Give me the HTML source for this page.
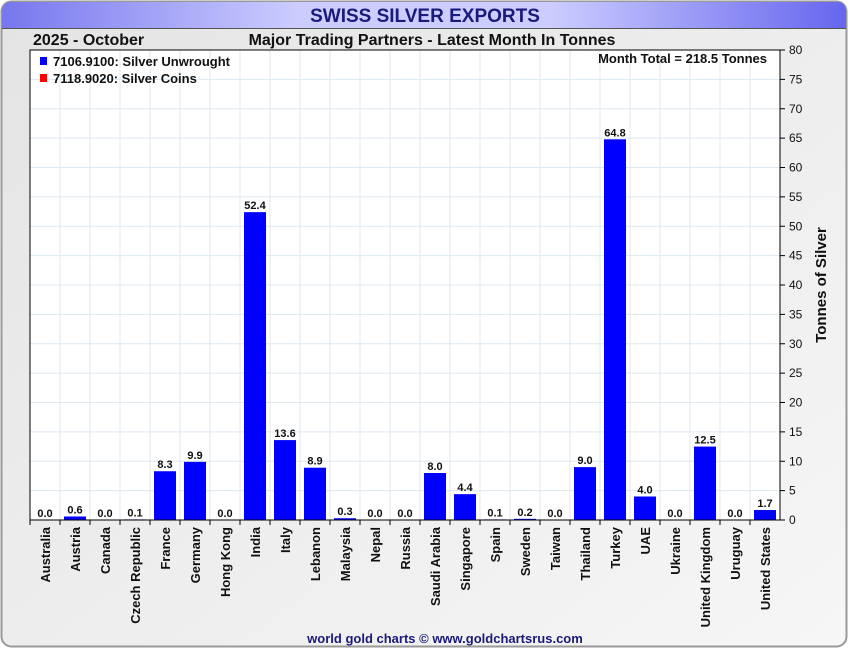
<!DOCTYPE html>
<html><head><meta charset="utf-8"><style>
body{margin:0;width:850px;height:650px;overflow:hidden;background:#fff;font-family:"Liberation Sans",sans-serif}
</style></head><body>
<svg id="c" width="850" height="650" xmlns="http://www.w3.org/2000/svg">
<defs>
<linearGradient id="hg" x1="0" x2="1" y1="0" y2="0">
<stop offset="0" stop-color="#7777ee"/><stop offset="0.35" stop-color="#ccccff"/><stop offset="0.65" stop-color="#ccccff"/><stop offset="1" stop-color="#6666ee"/></linearGradient>
<linearGradient id="bg" x1="0" x2="1" y1="0" y2="1">
<stop offset="0" stop-color="#e4e4e4"/><stop offset="1" stop-color="#f6f6f6"/></linearGradient>
</defs>
<rect x="1.5" y="1.5" width="845" height="645" rx="10" fill="url(#bg)" stroke="#999" stroke-width="2"/>
<path d="M2,28 L2,12 Q2,2 12,2 L836,2 Q846,2 846,12 L846,28 Z" fill="url(#hg)"/>
<line x1="2" y1="28.5" x2="846" y2="28.5" stroke="#555" stroke-width="1"/>
<text x="425" y="22" text-anchor="middle" font-size="19" font-weight="bold" fill="#1a1a7a">SWISS SILVER EXPORTS</text>
<text x="33" y="45" font-size="16" font-weight="bold" fill="#111">2025 - October</text>
<text x="432" y="45" text-anchor="middle" font-size="16" font-weight="bold" fill="#111">Major Trading Partners - Latest Month In Tonnes</text>
<rect x="30" y="50" width="750" height="470" fill="#fff"/>
<g id="grid"></g>
<g id="bars"></g>
<rect x="30" y="50" width="750" height="470" fill="none" stroke="#000" stroke-width="1"/>
<rect x="40" y="57" width="7" height="8" fill="#0000ff"/>
<text x="53" y="66" font-size="13" font-weight="bold" fill="#111">7106.9100: Silver Unwrought</text>
<rect x="40" y="74" width="7" height="8" fill="#ff0000"/>
<text x="53" y="83" font-size="13" font-weight="bold" fill="#111">7118.9020: Silver Coins</text>
<text x="767" y="63" text-anchor="end" font-size="13" font-weight="bold" fill="#111">Month Total = 218.5 Tonnes</text>
<text transform="translate(826,285) rotate(-90)" text-anchor="middle" font-size="15" font-weight="bold" fill="#111">Tonnes of Silver</text>
<text x="445" y="643" text-anchor="middle" font-size="13" font-weight="bold" fill="#1a1a7a">world gold charts © www.goldchartsrus.com</text>
</svg>
<script>
const categories=["Australia","Austria","Canada","Czech Republic","France","Germany","Hong Kong","India","Italy","Lebanon","Malaysia","Nepal","Russia","Saudi Arabia","Singapore","Spain","Sweden","Taiwan","Thailand","Turkey","UAE","Ukraine","United Kingdom","Uruguay","United States"];
const unwrought=[0.0,0.6,0.0,0.1,8.3,9.9,0.0,52.4,13.6,8.9,0.3,0.0,0.0,8.0,4.4,0.1,0.2,0.0,9.0,64.8,4.0,0.0,12.5,0.0,1.7];
const yTicks=[0,5,10,15,20,25,30,35,40,45,50,55,60,65,70,75,80];
const NS="http://www.w3.org/2000/svg";
const L=30,R=780,T=50,B=520,yMax=80;
const bw=(R-L)/categories.length;
function y(v){return B-(v/yMax)*(B-T);}
function xc(i){return L+bw*(i+0.5);}
function mk(t,a,p){const e=document.createElementNS(NS,t);for(const k in a)e.setAttribute(k,a[k]);p.appendChild(e);return e;}
const g=document.getElementById('grid'),bg=document.getElementById('bars'),svg=document.getElementById('c');
yTicks.forEach(v=>{
  if(v>0&&v<yMax)mk('line',{x1:L,x2:R,y1:y(v),y2:y(v),stroke:'#dde8f0','stroke-width':1},g);
  mk('line',{x1:R,x2:R+5,y1:y(v),y2:y(v),stroke:'#000'},svg);
  const t=mk('text',{x:R+9,y:y(v)+4,'font-size':12,fill:'#111'},svg);
  
  
  t.textContent=v;
});
categories.forEach((c,i)=>{
  if(i>0)mk('line',{x1:L+bw*i,x2:L+bw*i,y1:T,y2:B,stroke:'#dde8f0'},g);
  mk('line',{x1:L+bw*i,x2:L+bw*i,y1:B,y2:B+5,stroke:'#000'},svg);
  const v=unwrought[i];
  const r=mk('rect',{x:xc(i)-11,y:y(v),width:22,height:B-y(v),fill:'#0000ff'},bg);
  
  
  const vl=mk('text',{x:xc(i),y:y(v)-3,'text-anchor':'middle','font-size':11,'font-weight':'bold',fill:'#111'},svg);
  
  
  vl.textContent=v.toFixed(1);
  const t=mk('text',{transform:`translate(${xc(i)+5},${B+7}) rotate(-90)`,'text-anchor':'end','font-size':13,'font-weight':'bold',fill:'#111'},svg);
  
  
  t.textContent=c;
});
</script>
</body></html>
